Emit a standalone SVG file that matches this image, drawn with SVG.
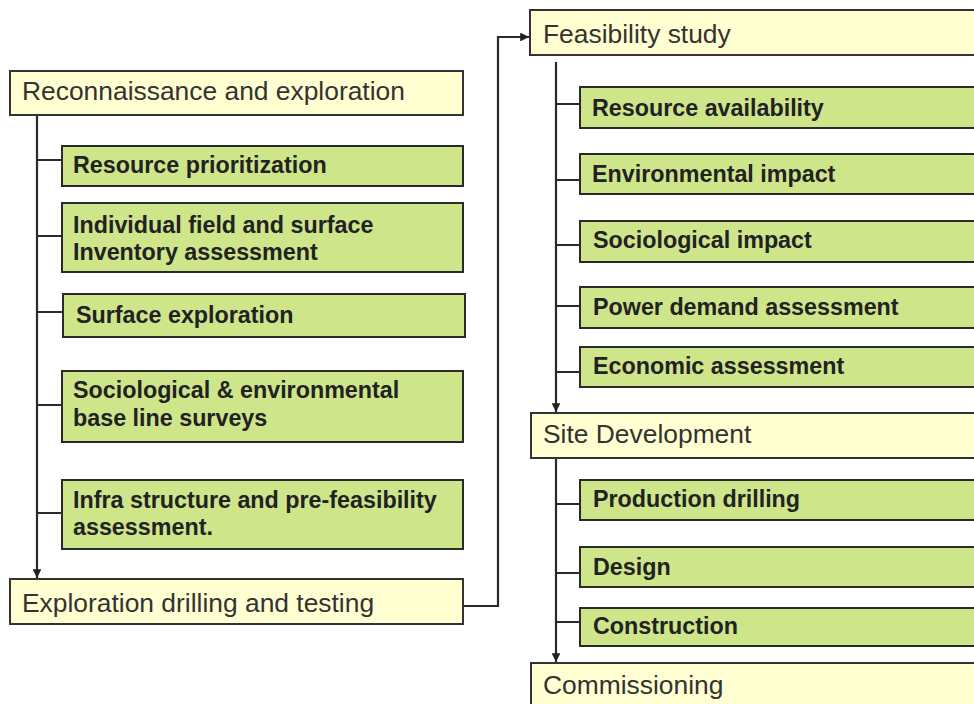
<svg xmlns="http://www.w3.org/2000/svg" width="974" height="704" viewBox="0 0 974 704">
<style>
.y{fill:#ffffd2;stroke:#333;stroke-width:2}
.g{fill:#cfe58a;stroke:#2a2a2a;stroke-width:2}
.ty{font-family:"Liberation Sans",Arial,sans-serif;font-size:26.4px;fill:#333}
.tg{font-family:"Liberation Sans",Arial,sans-serif;font-size:23.3px;font-weight:bold;fill:#222}
.c{fill:none;stroke:#2a2a2a;stroke-width:2.2}
</style>
<defs>
<marker id="ah" viewBox="0 0 10 10" refX="10" refY="5" markerWidth="4" markerHeight="4" orient="auto" markerUnits="strokeWidth">
<path d="M0,0 L10,5 L0,10 z" fill="#222"/>
</marker>
</defs>
<rect width="974" height="704" fill="#fff"/>
<g id="connectors">
<path class="c" d="M37,115 V578" marker-end="url(#ah)"/>
<path class="c" d="M37,160 H62 M37,236 H62 M37,312 H63 M37,405 H62 M37,513 H62"/>
<path class="c" d="M463,606 H498 V37 H529" marker-end="url(#ah)"/>
<path class="c" d="M556,62 V412" marker-end="url(#ah)"/>
<path class="c" d="M556,104 H580 M556,180 H580 M556,245 H580 M556,306 H580 M556,372 H580"/>
<path class="c" d="M556,459 V662" marker-end="url(#ah)"/>
<path class="c" d="M556,504 H580 M556,573 H580 M556,622 H580"/>
</g>
<g id="n-recon"><rect class="y" x="10" y="71" width="453" height="44"/><text class="ty" x="22" y="100">Reconnaissance and exploration</text></g>
<g id="n-resprio"><rect class="g" x="62" y="146" width="401" height="40"/><text class="tg" x="73" y="173">Resource prioritization</text></g>
<g id="n-indiv"><rect class="g" x="62" y="203" width="401" height="69"/><text class="tg" x="73" y="233">Individual field and surface</text><text class="tg" x="73" y="260">Inventory assessment</text></g>
<g id="n-surface"><rect class="g" x="63" y="294" width="402" height="43"/><text class="tg" x="76" y="323">Surface exploration</text></g>
<g id="n-socenv"><rect class="g" x="62" y="371" width="401" height="71"/><text class="tg" x="73" y="398">Sociological &amp; environmental</text><text class="tg" x="73" y="426">base line surveys</text></g>
<g id="n-infra"><rect class="g" x="62" y="480" width="401" height="69"/><text class="tg" x="73" y="508">Infra structure and pre-feasibility</text><text class="tg" x="73" y="535">assessment.</text></g>
<g id="n-expdrill"><rect class="y" x="10" y="579" width="453" height="45"/><text class="ty" x="22" y="612">Exploration drilling and testing</text></g>
<g id="n-feas"><rect class="y" x="530" y="10" width="460" height="45"/><text class="ty" x="543" y="43">Feasibility study</text></g>
<g id="n-resavail"><rect class="g" x="580" y="87" width="410" height="41"/><text class="tg" x="592" y="116">Resource availability</text></g>
<g id="n-envimp"><rect class="g" x="580" y="154" width="410" height="40"/><text class="tg" x="592" y="182">Environmental impact</text></g>
<g id="n-socimp"><rect class="g" x="580" y="221" width="410" height="41"/><text class="tg" x="593" y="248">Sociological impact</text></g>
<g id="n-power"><rect class="g" x="580" y="287" width="410" height="41"/><text class="tg" x="593" y="315">Power demand assessment</text></g>
<g id="n-econ"><rect class="g" x="580" y="347" width="410" height="40"/><text class="tg" x="593" y="374">Economic assessment</text></g>
<g id="n-site"><rect class="y" x="531" y="413" width="460" height="45"/><text class="ty" x="543" y="443">Site Development</text></g>
<g id="n-prod"><rect class="g" x="580" y="480" width="410" height="40"/><text class="tg" x="593" y="507">Production drilling</text></g>
<g id="n-design"><rect class="g" x="580" y="547" width="410" height="40"/><text class="tg" x="593" y="575">Design</text></g>
<g id="n-constr"><rect class="g" x="580" y="608" width="410" height="38"/><text class="tg" x="593" y="634">Construction</text></g>
<g id="n-comm"><rect class="y" x="531" y="663" width="460" height="50"/><text class="ty" x="543" y="694">Commissioning</text></g>
</svg>
